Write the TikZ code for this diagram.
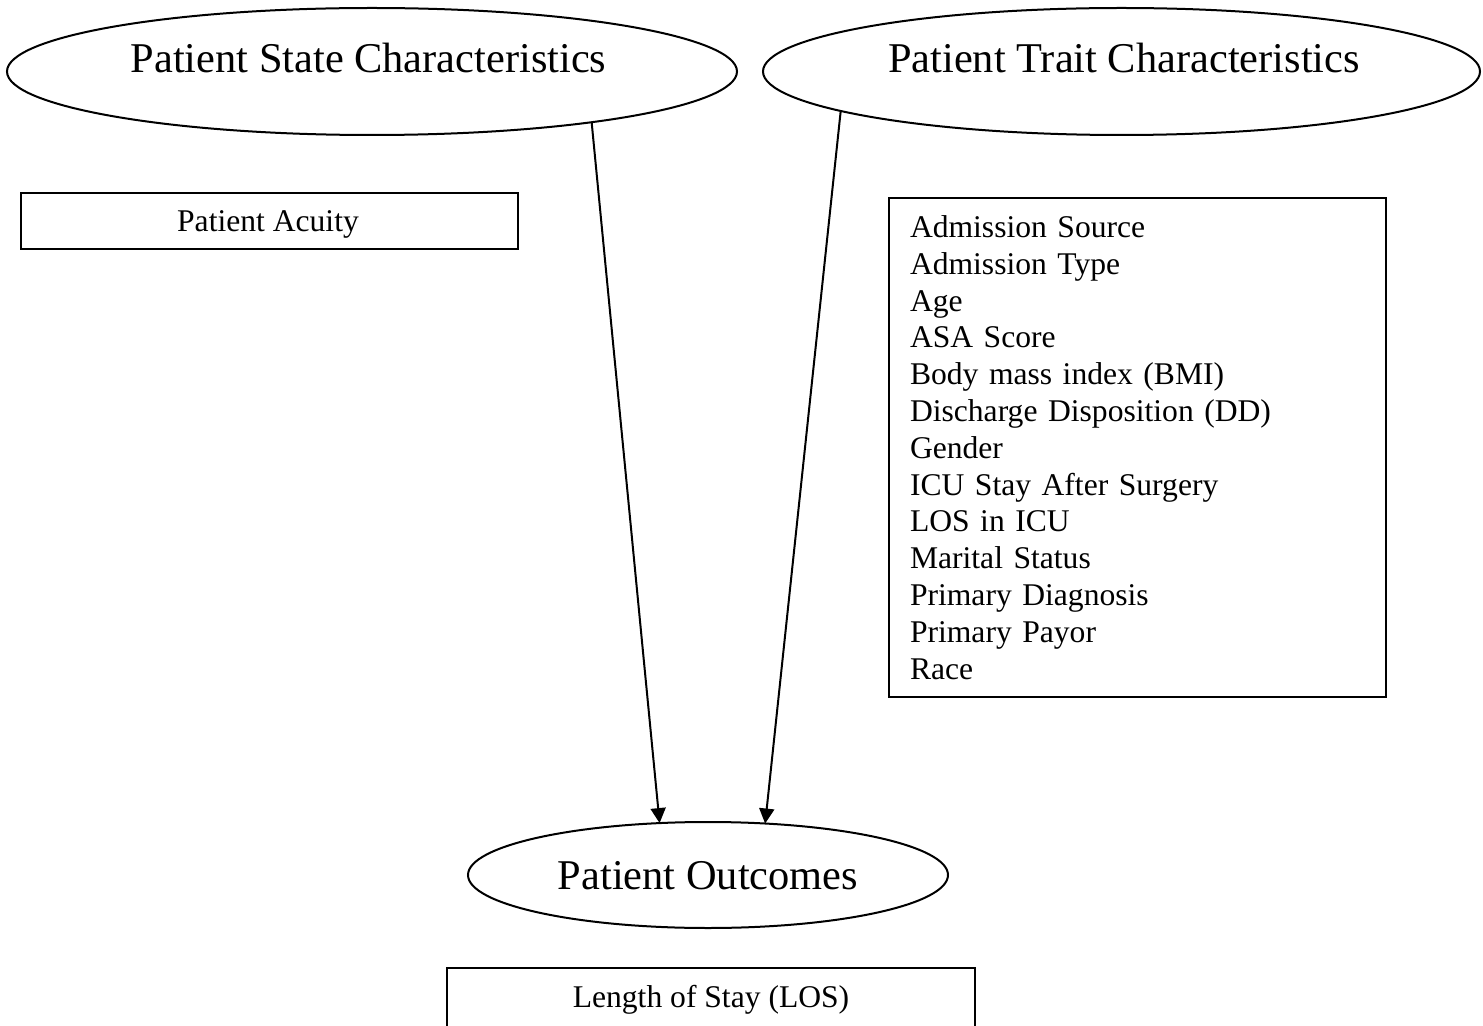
\documentclass[tikz,border=0pt]{standalone}
\usepackage{fontspec}
\setmainfont{Liberation Serif}
\usetikzlibrary{shapes.geometric,arrows.meta}

\tikzset{
  oval/.style={ellipse, draw, line width=1pt, inner sep=0pt, outer sep=0pt},
  ovaltext/.style={anchor=base, inner sep=0pt, font=\fontsize{21.2}{25}\selectfont},
  infobox/.style={rectangle, draw, line width=1pt, inner sep=0pt, outer sep=0pt,
    font=\fontsize{15.8}{18.4}\selectfont},
  boxtext/.style={anchor=base, inner sep=0pt, font=\fontsize{15.8}{18.4}\selectfont},
  link/.style={line width=1pt, -{Triangle[width=7.5pt,length=7.5pt]}}
}

\begin{document}
\begin{tikzpicture}[x=0.5pt, y=-0.5pt]
\useasboundingbox (0,0) rectangle (1483,1026);
\begin{scope}
\clip (0,0) rectangle (1483,1026);

% top-level concepts
\node[oval, minimum width=365pt, minimum height=63.5pt] (state) at (372,71.5) {};
\node[ovaltext] (statelbl) at (368.5,73) {Patient State Characteristics};

\node[oval, minimum width=358.5pt, minimum height=63.5pt] (trait) at (1121.5,71.5) {};
\node[ovaltext] (traitlbl) at (1124,73) {Patient Trait Characteristics};

\node[oval, minimum width=240pt, minimum height=53pt] (outcome) at (708,875) {};
\node[ovaltext] (outcomelbl) at (708,889) {Patient Outcomes};

% measured variables
\node[infobox, minimum width=248.5pt, minimum height=28pt] (acuity) at (269.5,221) {};
\node[boxtext] (acuitylbl) at (268,232) {Patient Acuity};

\node[infobox, anchor=north west, minimum width=248.5pt, minimum height=249.5pt,
      align=left, text width=227.5pt, inner xsep=10.5pt] (traits) at (889,198) {%
  Admission Source\\
  Admission Type\\
  Age\\
  ASA Score\\
  Body mass index (BMI)\\
  Discharge Disposition (DD)\\
  Gender\\
  ICU Stay After Surgery\\
  LOS in ICU\\
  Marital Status\\
  Primary Diagnosis\\
  Primary Payor\\
  Race};

\node[infobox, anchor=north west, minimum width=264pt, minimum height=60pt] (los) at (447,968) {};
\node[boxtext] (loslbl) at (711,1007) {Length of Stay (LOS)};

% influences
\draw[link] (state.-13.9) -- (outcome.133.3);
\draw[link] (trait.188.2) -- (outcome.42.6);
\end{scope}
\end{tikzpicture}
\end{document}
